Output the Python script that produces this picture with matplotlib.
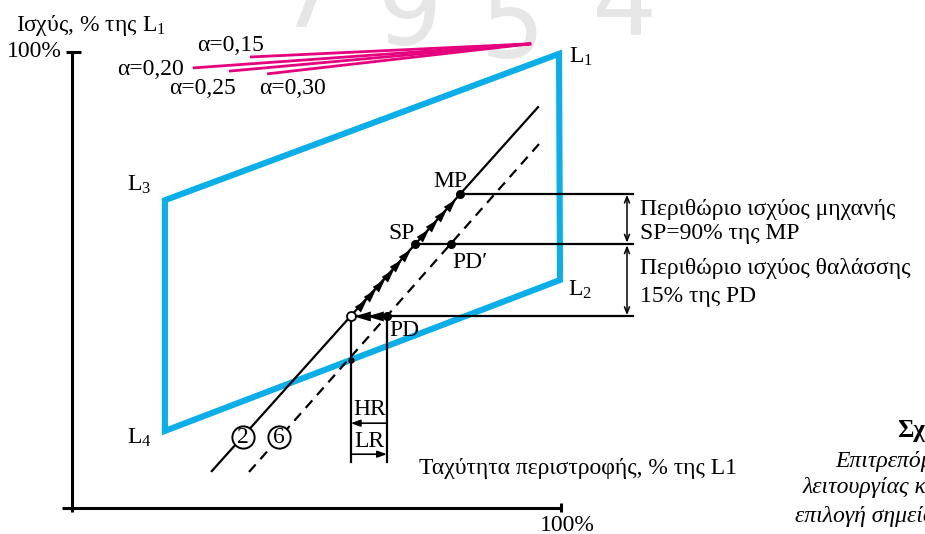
import numpy as np
import matplotlib
matplotlib.use("Agg")
import matplotlib.pyplot as plt
from matplotlib.patches import Polygon
from matplotlib.markers import MarkerStyle
from matplotlib.path import Path
from matplotlib.transforms import Affine2D

plt.rcParams["font.family"] = ["Liberation Serif", "DejaVu Serif"]
plt.rcParams["mathtext.fontset"] = "custom"
plt.rcParams["mathtext.rm"] = "Liberation Serif"
plt.rcParams["mathtext.it"] = "Liberation Serif:italic"
plt.rcParams["mathtext.bf"] = "Liberation Serif:bold"

# ---- data (speed % of L1, power % of L1) ----
# engine layout diagram corners, drawn L3 -> L1 -> L2 -> L4
layout_names = ["L3", "L1", "L2", "L4"]
layout_speed = [19.0, 99.6, 99.8, 19.0]
layout_power = [67.5, 99.6, 50.0, 16.9]

# light running factor lines, all meeting at one point
alpha_labels = ["α=0,15", "α=0,20", "α=0,25", "α=0,30"]
alpha_start_speed = [36.4, 24.7, 32.1, 39.9]
alpha_start_power = [98.9, 96.5, 95.8, 95.2]
alpha_end_speed = 93.9
alpha_end_power = 101.8

# propeller curves 2 (solid) and 6 (dashed)
curve2_speed = [28.6, 95.3]
curve2_power = [8.1, 87.9]
curve6_speed = [36.2, 95.9]
curve6_power = [7.9, 80.3]

# power levels of MP, SP and PD
mp_power = 68.9
sp_power = 57.9
pd_power = 42.1

BLUE = "#0aaee8"
PINK = "#e5007d"
FS = 17

fig = plt.figure(figsize=(9.25, 5.34), dpi=100)
ax = fig.add_axes([0, 0, 1, 1])
ax.set_xlim(-14.72, 174.44)
ax.set_ylim(-5.70, 111.40)
ax.axis("off")

# faint background digits
for ch, x, y in [("7", 48.5, 105.5), ("9", 69.0, 101.5), ("5", 90.0, 98.6), ("4", 113.0, 103.8)]:
    ax.text(x, y, ch, fontsize=74, color="#e6e6e6", ha="center", va="baseline",
            family="DejaVu Sans", zorder=0)

# axes of the diagram
ax.plot([0, 0], [100, -0.88], color="black", lw=2.2, solid_capstyle="butt")
ax.plot([-2.04, 100], [0, 0], color="black", lw=2.2, solid_capstyle="butt")
ax.plot([-1.23, 1.84], [100, 100], color="black", lw=2.2, solid_capstyle="butt")
ax.plot([100, 100], [1.1, -0.88], color="black", lw=2.2, solid_capstyle="butt")
ax.text(-2.04, 100, "100%", fontsize=FS, ha="right", va="center")
ax.text(101.4, -3.73, "100%", fontsize=FS, ha="center", va="center")
ax.text(-11.45, 105.9, "Ισχύς, % της L$_1$", fontsize=FS, ha="left", va="center")
ax.text(136.0, 8.77, "Ταχύτητα περιστροφής, % της L1", fontsize=FS, ha="right", va="center")

# layout area
ax.add_patch(Polygon(np.column_stack([layout_speed, layout_power]), closed=True,
                     fill=False, edgecolor=BLUE, lw=4.4, joinstyle="miter", zorder=2))
ax.text(101.6, 98.9, "L$_1$", fontsize=FS, ha="left", va="center")
ax.text(101.4, 47.8, "L$_2$", fontsize=FS, ha="left", va="center")
ax.text(11.2, 70.8, "L$_3$", fontsize=FS, ha="left", va="center")
ax.text(11.2, 15.4, "L$_4$", fontsize=FS, ha="left", va="center")

# light running lines
for sx, sy in zip(alpha_start_speed, alpha_start_power):
    ax.plot([sx, alpha_end_speed], [sy, alpha_end_power], color=PINK, lw=2.0,
            solid_capstyle="butt", zorder=3)
alpha_text_pos = [(32.5, 101.5), (16.0, 96.1), (26.6, 92.1), (45.0, 92.1)]
for lab, (tx, ty) in zip(alpha_labels, alpha_text_pos):
    ax.text(tx, ty, lab, fontsize=FS, ha="center", va="center")

# propeller curves
ax.plot(curve2_speed, curve2_power, color="black", lw=1.6, zorder=4)
ax.plot(curve6_speed, curve6_power, color="black", lw=1.6, ls=(0, (4.5, 3.2)), zorder=4)

def speed_on(curve_speed, curve_power, p):
    return float(np.interp(p, curve_power, curve_speed))

mp_speed = speed_on(curve2_speed, curve2_power, mp_power)
sp_speed = speed_on(curve2_speed, curve2_power, sp_power)
hr_speed = speed_on(curve2_speed, curve2_power, pd_power)
pd_speed = speed_on(curve6_speed, curve6_power, pd_power)
pdp_speed = speed_on(curve6_speed, curve6_power, sp_power)

right_x = 114.7
ax.plot([mp_speed, right_x], [mp_power, mp_power], color="black", lw=1.6, zorder=4)
ax.plot([sp_speed, right_x], [sp_power, sp_power], color="black", lw=1.6, zorder=4)
ax.plot([hr_speed, right_x], [pd_power, pd_power], color="black", lw=1.6, zorder=4)

# margins
arrow_x = 113.5
for y0, y1 in [(mp_power - 0.2, sp_power + 0.3), (sp_power - 0.3, pd_power + 0.2)]:
    ax.annotate("", xy=(arrow_x, y1), xytext=(arrow_x, y0),
                arrowprops=dict(arrowstyle="<->,head_length=0.45,head_width=0.18",
                                color="black", lw=1.1, shrinkA=0, shrinkB=0))
ax.text(116.2, 65.4, "Περιθώριο ισχύος μηχανής", fontsize=FS, ha="left", va="center")
ax.text(116.2, 60.1, "SP=90% της MP", fontsize=FS, ha="left", va="center")
ax.text(116.2, 52.6, "Περιθώριο ισχύος θαλάσσης", fontsize=FS, ha="left", va="center")
ax.text(116.2, 46.3, "15% της PD", fontsize=FS, ha="left", va="center")

# points
ax.plot([mp_speed, sp_speed, pdp_speed, pd_speed], [mp_power, sp_power, sp_power, pd_power],
        "o", color="black", ms=5.5, zorder=6)
ax.plot([hr_speed], [pd_power], "o", mfc="white", mec="black", mew=1.3, ms=6.5, zorder=6)
ax.text(77.3, 71.5, "MP", fontsize=FS, ha="center", va="center", zorder=7)
ax.text(67.3, 60.3, "SP", fontsize=FS, ha="center", va="center", zorder=7)
ax.text(77.7, 53.9, "PD′", fontsize=FS, ha="left", va="center", zorder=7)
ax.text(65.0, 39.0, "PD", fontsize=FS, ha="left", va="center", zorder=7)

# direction arrowheads
head = Path([(1.0, 0.0), (-1.0, 0.6), (-1.0, -0.6), (1.0, 0.0)],
            [Path.MOVETO, Path.LINETO, Path.LINETO, Path.CLOSEPOLY])

def screen_angle(p0, p1):
    a = ax.transData.transform(p0)
    b = ax.transData.transform(p1)
    return np.degrees(np.arctan2(b[1] - a[1], b[0] - a[0]))

up_angle = screen_angle((hr_speed, pd_power), (mp_speed, mp_power))
up_marker = MarkerStyle(head, transform=Affine2D().rotate_deg(up_angle))
fr = np.array([12, 22, 32, 42, 52, 62, 82, 92, 102, 112]) / 122.0
ax.plot(hr_speed + fr * (mp_speed - hr_speed), pd_power + fr * (mp_power - pd_power),
        ls="none", marker=up_marker, ms=10, color="black", mew=0, zorder=6)
left_marker = MarkerStyle(head, transform=Affine2D().rotate_deg(180))
fl = np.array([0.3, 0.68])
ax.plot(hr_speed + fl * (pd_speed - hr_speed), np.full(2, pd_power),
        ls="none", marker=left_marker, ms=12, color="black", mew=0, zorder=6)

# speed margins HR / LR
y_bottom = 10.1
ax.plot([hr_speed, hr_speed], [pd_power, y_bottom], color="black", lw=1.6, zorder=4)
ax.plot([pd_speed, pd_speed], [pd_power, y_bottom], color="black", lw=1.6, zorder=4)
cross_power = float(np.interp(hr_speed, [layout_speed[3], layout_speed[2]],
                              [layout_power[3], layout_power[2]]))
ax.plot([hr_speed], [cross_power], "o", color="black", ms=3.5, zorder=6)
ax.annotate("", xy=(hr_speed, 18.6), xytext=(pd_speed, 18.6),
            arrowprops=dict(arrowstyle="-|>,head_length=0.55,head_width=0.2",
                            color="black", lw=1.2, shrinkA=0, shrinkB=0))
ax.annotate("", xy=(pd_speed, 11.8), xytext=(hr_speed, 11.8),
            arrowprops=dict(arrowstyle="-|>,head_length=0.55,head_width=0.2",
                            color="black", lw=1.2, shrinkA=0, shrinkB=0))
ax.text(60.9, 21.5, "HR", fontsize=FS, ha="center", va="center")
ax.text(60.9, 14.5, "LR", fontsize=FS, ha="center", va="center")

# curve numbers
for num, cx in [("2", 35.0), ("6", 42.3)]:
    ax.plot([cx], [15.6], "o", mfc="white", mec="black", mew=1.4, ms=16, zorder=5)
    ax.text(cx, 15.4, num, fontsize=FS, ha="center", va="center", zorder=7)

# caption at the right edge
ax.text(168.8, 17.1, "Σχήμα", fontsize=FS + 1, fontweight="bold", ha="left", va="center")
ax.text(156.0, 10.1, "Επιτρεπόμενη περιοχή", fontsize=FS, style="italic", ha="left", va="center")
ax.text(149.5, 4.39, "λειτουργίας και", fontsize=FS, style="italic", ha="left", va="center")
ax.text(147.9, -1.97, "επιλογή σημείου", fontsize=FS, style="italic", ha="left", va="center")

fig.savefig("out.png", dpi=100)
